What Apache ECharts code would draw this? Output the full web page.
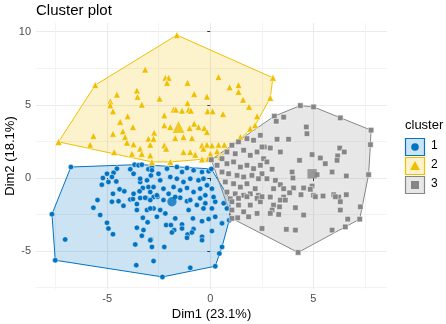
<!DOCTYPE html>
<html>
<head>
<meta charset="utf-8">
<script src="https://cdn.jsdelivr.net/npm/echarts@6/dist/echarts.min.js"></script>
<style>
  html, body { margin: 0; padding: 0; background: #fff; }
  #chart { width: 446px; height: 324px; }
</style>
</head>
<body>
<div id="chart"></div>
<script>
// values (Dim1, Dim2)
const cluster1 = [
  [-6.76,0.75],[-3.67,0.91],[-3.48,0.87],[-3.32,0.91],[-3.00,0.60],[-2.83,0.75],[-3.88,0.60],[-3.72,0.29],
  [-4.53,0.64],[-4.69,0.36],[-5.01,0.29],[-5.21,0.00],[-4.77,0.07],[-4.56,-0.23],[-4.94,-0.27],[-5.26,-0.46],
  [-3.40,-0.27],[-3.40,-0.05],[-3.07,-0.16],[-2.88,0.18],[-3.00,-0.62],[-3.27,-0.68],[-4.40,-0.77],[-4.17,-0.91],
  [-4.72,-1.08],[-3.72,-1.08],[-3.43,-0.91],[-2.91,-0.96],[-2.75,-1.30],[-3.40,-1.37],[-3.11,-1.37],[-3.88,-1.46],
  [-7.68,-2.47],[-7.52,-5.62],[-5.47,-1.51],[-5.67,-2.03],[-4.77,-1.62],[-4.45,-1.58],[-4.21,-1.90],[-3.75,-1.44],
  [-3.56,-1.78],[-3.16,-1.35],[-2.91,-1.51],[-2.75,-2.08],[-3.07,-2.19],[-3.56,-2.19],[-5.34,-2.53],[-3.27,-2.72],
  [-3.04,-3.03],[-5.01,-3.06],[-4.94,-3.45],[-3.56,-3.40],[-3.24,-3.56],[-4.72,-3.84],[-3.32,-3.95],[-7.04,-4.20],
  [-2.88,-4.20],[-3.64,-4.54],[-2.83,-4.71],[-3.59,-5.96],[-2.75,-5.68],[-2.27,-1.51],[-2.56,-1.28],[-1.46,-1.35],
  [-1.13,-1.58],[-0.97,-1.51],[-0.49,-1.39],[-0.24,-1.73],[0.24,-1.62],[-0.65,-1.85],[-0.33,-2.08],[0.08,-2.08],
  [0.65,-1.73],[0.81,-2.08],[-2.91,-2.08],[-2.43,-2.19],[-2.18,-2.42],[-1.05,-2.19],[-2.59,-2.65],[-1.70,-2.76],
  [-0.84,-2.76],[-0.40,-2.95],[-0.08,-2.81],[0.24,-2.65],[0.57,-3.10],[0.92,-2.88],[-2.14,-3.22],[-1.91,-3.22],
  [-1.37,-3.17],[-1.37,-3.45],[-1.75,-3.56],[-0.81,-3.49],[-1.86,-3.72],[0.08,-3.63],[-1.10,-3.86],[-0.89,-3.72],
  [-1.13,-4.09],[-0.40,-4.02],[-2.91,-4.25],[-0.40,-4.25],[-2.23,-4.71],[0.57,-4.71],[0.44,-5.16],[-0.97,-6.14],
  [0.24,-6.03],[-2.32,-6.76],[-2.83,0.53],[-2.51,0.29],[-2.10,0.64],[-1.62,0.75],[-1.37,0.41],[-1.13,0.68],
  [-0.81,0.53],[-0.40,0.41],[-0.08,0.46],[-2.43,-0.16],[-1.94,0.07],[-1.62,-0.05],[-1.30,-0.27],[-0.97,-0.05],
  [-0.57,-0.16],[-0.33,-0.05],[-0.16,-0.50],[0.08,-0.73],[-2.75,-0.62],[-2.27,-0.73],[-1.78,-0.62],[-1.46,-0.84],
  [-1.13,-0.68],[-0.81,-0.96],[-0.49,-0.73],[-0.24,-1.18],[-2.59,-1.18],[-2.02,-1.08],[-1.70,-1.30],[0.16,-1.30],
  [0.05,0.62],[0.97,-1.50]
];
const cluster2 = [
  [-3.16,7.42],[-3.56,5.98],[-3.53,5.55],[-4.53,5.71],[-4.85,5.25],[-4.85,4.98],[-3.32,5.02],[-4.72,4.57],
  [-4.01,4.23],[-5.58,6.35],[-1.62,9.77],[-2.18,6.85],[-2.02,6.85],[-2.10,6.51],[-1.10,6.51],[0.40,6.90],
  [0.94,6.21],[1.37,6.35],[1.37,5.89],[1.59,5.36],[1.88,4.88],[-2.46,5.43],[-0.78,5.75],[-0.16,5.57],
  [-1.10,5.12],[-1.78,4.68],[-1.67,4.68],[-1.37,4.61],[-1.05,4.68],[-0.94,4.61],[-0.13,4.57],[0.11,4.57],
  [0.62,4.38],[-2.23,4.29],[2.27,4.23],[3.04,6.85],[2.91,5.48],[-4.37,3.84],[-3.75,3.49],[-4.72,3.03],
  [-4.24,3.20],[-5.67,2.88],[-4.13,2.81],[-4.04,2.42],[-3.72,2.31],[-5.83,2.28],[-3.40,2.01],[-3.00,2.69],
  [-2.91,2.28],[-4.66,1.78],[-3.80,1.66],[-3.32,1.66],[-2.91,1.55],[-7.36,2.47],[-2.23,3.61],[-1.94,3.49],
  [-1.00,3.42],[-0.78,3.72],[-0.57,3.49],[-0.29,3.42],[-0.16,3.15],[-2.72,3.10],[-1.70,2.74],[-1.30,2.81],
  [-0.89,2.74],[-2.75,2.69],[-2.23,2.24],[-2.14,2.01],[-1.30,1.78],[-0.97,1.78],[-0.73,1.60],[-0.40,2.24],
  [-0.16,2.28],[0.08,2.24],[0.40,2.28],[0.68,2.28],[-0.33,2.01],[0.00,1.66],[0.33,1.83],[0.49,1.44],
  [-2.83,1.10],[-1.94,1.10],[-0.40,1.28],[-0.10,1.32],[1.46,2.81],[1.94,3.38],[2.18,3.61]
];
const cluster3 = [
  [3.11,4.23],[3.56,4.16],[4.37,4.95],[5.01,4.86],[6.31,4.11],[3.20,3.88],[4.66,3.49],[4.69,3.03],
  [3.24,2.65],[3.80,2.65],[7.80,3.27],[7.77,2.28],[2.62,2.12],[2.91,2.05],[3.40,1.78],[6.28,2.05],
  [6.50,1.78],[4.94,1.60],[5.34,1.37],[6.18,1.51],[6.15,1.21],[4.33,1.21],[5.58,0.98],[2.59,1.32],
  [2.75,1.10],[2.43,0.87],[3.00,0.60],[3.97,0.41],[5.18,0.23],[5.91,0.41],[6.60,0.14],[7.68,0.23],
  [4.01,0.00],[2.51,0.29],[2.75,-0.05],[3.16,-0.16],[3.40,-0.46],[3.56,-0.73],[3.07,-0.73],[4.04,-0.68],
  [4.53,-0.68],[4.94,-0.55],[4.85,-0.77],[3.85,-1.01],[4.40,-1.14],[5.01,-1.18],[5.47,-1.23],[5.99,-1.14],
  [6.23,-1.30],[6.60,-1.14],[2.91,-1.30],[3.56,-1.30],[0.33,0.87],[0.57,1.32],[0.81,1.78],[1.05,2.24],
  [1.37,2.47],[1.78,2.69],[2.10,2.58],[2.43,2.92],[1.21,1.66],[1.62,1.90],[1.94,1.55],[2.27,1.78],
  [2.51,2.12],[0.81,0.98],[1.13,1.10],[1.46,0.75],[1.78,0.87],[2.10,0.64],[0.57,0.41],[0.89,0.29],
  [1.30,0.18],[1.62,0.07],[2.02,0.18],[2.34,-0.05],[0.73,-0.27],[1.13,-0.39],[1.46,-0.62],[1.78,-0.39],
  [2.18,-0.73],[0.81,-0.96],[1.21,-1.08],[1.62,-1.18],[1.94,-1.08],[2.34,-1.18],[0.97,-1.42],[1.37,-1.39],
  [1.78,-1.28],[2.27,-1.39],[1.05,-1.62],[1.37,-1.85],[1.94,-1.85],[2.43,-1.62],[1.05,-2.19],[1.62,-2.31],
  [2.27,-2.42],[1.33,-2.72],[1.05,-2.76],[1.86,-2.65],[2.51,-1.28],[3.40,-1.51],[3.64,-1.51],[3.07,-1.85],
  [3.36,-1.97],[3.00,-2.19],[2.91,-2.42],[3.32,-2.49],[4.13,-2.03],[4.53,-2.53],[5.10,-1.28],[6.07,-1.28],
  [6.31,-1.62],[7.28,-1.97],[6.31,-2.19],[7.25,-2.81],[6.67,-2.81],[6.55,-3.34],[2.51,-3.45],[3.69,-3.51],
  [4.13,-3.56],[5.91,-3.56],[4.26,-5.09],[0.05,1.25]
];
const centers = [[-1.86,-1.62],[-1.54,3.49],[4.94,0.29]];
const clusterNames = ['1', '2', '3'];
const xTicks = [-5, 0, 5];
const yTicks = [-5, 0, 5, 10];
const xMinor = [-7.5, -2.5, 2.5, 7.5];
const yMinor = [-7.5, -2.5, 2.5, 7.5];

const colors = ['#0073C2', '#EFC000', '#868686'];
const fills = ['rgba(0,115,194,0.2)', 'rgba(239,192,0,0.2)', 'rgba(134,134,134,0.2)'];
const symbols = ['circle', 'triangle', 'rect'];
const sizes = [5.5, 7, 5.5];
const font = 'Liberation Sans, Arial, sans-serif';

// convex hull (monotone chain)
function hull(pts){
  const p = pts.slice().sort((a,b) => a[0]-b[0] || a[1]-b[1]);
  const cross = (o,a,b) => (a[0]-o[0])*(b[1]-o[1]) - (a[1]-o[1])*(b[0]-o[0]);
  const lower = [], upper = [];
  for (const q of p){
    while (lower.length >= 2 && cross(lower[lower.length-2], lower[lower.length-1], q) <= 0) lower.pop();
    lower.push(q);
  }
  for (let i = p.length-1; i >= 0; i--){
    const q = p[i];
    while (upper.length >= 2 && cross(upper[upper.length-2], upper[upper.length-1], q) <= 0) upper.pop();
    upper.push(q);
  }
  upper.pop(); lower.pop();
  return lower.concat(upper);
}

const all = cluster1.concat(cluster2, cluster3);
const xs = all.map(d => d[0]), ys = all.map(d => d[1]);
const xr = [Math.min(...xs), Math.max(...xs)], yr = [Math.min(...ys), Math.max(...ys)];
const xPad = (xr[1]-xr[0])*0.05, yPad = (yr[1]-yr[0])*0.05;

const groups = [cluster1, cluster2, cluster3];

const hullSeries = groups.map((g, i) => {
  const h = hull(g);
  return {
    type: 'custom',
    silent: true,
    data: [[0, 0]],
    z: 1,
    renderItem: function(params, api){
      return {
        type: 'polygon',
        shape: { points: h.map(p => api.coord(p)) },
        style: { fill: fills[i], stroke: colors[i], lineWidth: 1 }
      };
    }
  };
});

const pointSeries = groups.map((g, i) => ({
  type: 'scatter',
  name: clusterNames[i],
  data: g,
  symbol: symbols[i],
  symbolSize: sizes[i],
  z: 3,
  itemStyle: { color: colors[i], borderColor: '#fff', borderWidth: 0.5, opacity: 1 }
}));

const centerSeries = {
  type: 'scatter',
  data: centers.map((c, i) => ({
    value: c,
    symbol: symbols[i],
    symbolSize: sizes[i] * 1.7,
    itemStyle: { color: colors[i] }
  })),
  z: 4
};

// legend drawn as keys
const legendTop = 138;
const legendEls = [{
  type: 'text', left: 405, top: 119,
  style: { text: 'cluster', font: '13px ' + font, fill: '#000' }
}];
groups.forEach((g, i) => {
  const y = legendTop + i * 19;
  legendEls.push({
    type: 'rect', shape: { x: 405.5, y: y + 0.5, width: 19, height: 17 },
    style: { fill: fills[i], stroke: colors[i], lineWidth: 1.2 }
  });
  let shape;
  if (i === 0) shape = { type: 'circle', shape: { cx: 415, cy: y + 9, r: 3.8 } };
  else if (i === 1) shape = { type: 'polygon', shape: { points: [[415, y + 4], [420, y + 13], [410, y + 13]] } };
  else shape = { type: 'rect', shape: { x: 411, y: y + 5, width: 8, height: 8 } };
  shape.style = { fill: colors[i] };
  legendEls.push(shape);
  legendEls.push({
    type: 'text', left: 431, top: y + 2,
    style: { text: clusterNames[i], font: '12px ' + font, fill: '#000' }
  });
});

const chart = echarts.init(document.getElementById('chart'));
chart.setOption({
  animation: false,
  title: {
    text: 'Cluster plot', left: 36, top: 3, padding: 0,
    textStyle: { fontFamily: font, fontSize: 15, fontWeight: 'normal', color: '#000' }
  },
  grid: { left: 36, right: 59, top: 23, bottom: 35, outerBoundsMode: 'none', containLabel: false },
  xAxis: [{
    type: 'value', min: xr[0]-xPad, max: xr[1]+xPad,
    name: 'Dim1 (23.1%)', nameLocation: 'middle', nameGap: 19, nameMoveOverlap: false,
    nameTextStyle: { fontFamily: font, fontSize: 13, color: '#000' },
    axisLine: { show: false },
    axisTick: { show: true, length: 3, customValues: xTicks, lineStyle: { color: '#333' } },
    axisLabel: { customValues: xTicks, margin: 4, fontFamily: font, fontSize: 11, color: '#4d4d4d' },
    splitLine: { show: true, lineStyle: { color: '#ebebeb', width: 1.1 } }
  }, {
    type: 'value', min: xr[0]-xPad, max: xr[1]+xPad, position: 'bottom',
    axisLine: { show: false }, axisLabel: { show: false },
    axisTick: { show: false, customValues: xMinor },
    splitLine: { show: true, lineStyle: { color: '#f3f3f3', width: 1 } }
  }],
  yAxis: [{
    type: 'value', min: yr[0]-yPad, max: yr[1]+yPad,
    name: 'Dim2 (18.1%)', nameLocation: 'middle', nameGap: 19, nameRotate: 90, nameMoveOverlap: false,
    nameTextStyle: { fontFamily: font, fontSize: 13, color: '#000' },
    axisLine: { show: false },
    axisTick: { show: true, length: 3, customValues: yTicks, lineStyle: { color: '#333' } },
    axisLabel: { customValues: yTicks, margin: 5, fontFamily: font, fontSize: 11, color: '#4d4d4d' },
    splitLine: { show: true, lineStyle: { color: '#ebebeb', width: 1.1 } }
  }, {
    type: 'value', min: yr[0]-yPad, max: yr[1]+yPad, position: 'left',
    axisLine: { show: false }, axisLabel: { show: false },
    axisTick: { show: false, customValues: yMinor },
    splitLine: { show: true, lineStyle: { color: '#f3f3f3', width: 1 } }
  }],
  graphic: legendEls,
  series: hullSeries.concat(pointSeries, [centerSeries])
});
</script>
</body>
</html>
